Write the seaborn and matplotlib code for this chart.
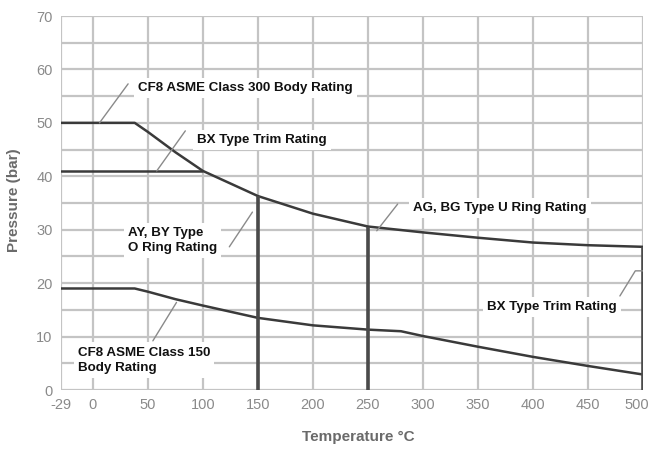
import matplotlib
matplotlib.use("Agg")
import matplotlib.pyplot as plt
import matplotlib.transforms as mtrans
import seaborn as sns
import pandas as pd

# ---- data ----
temps_300 = [-29, 38, 50, 75, 100, 150, 200, 250, 300, 350, 400, 450, 500]
press_300 = [50.0, 50.0, 48.3, 44.5, 41.0, 36.3, 33.0, 30.6, 29.5, 28.5, 27.6, 27.1, 26.8]

temps_150 = [-29, 38, 50, 75, 100, 150, 200, 250, 280, 300, 350, 400, 450, 500]
press_150 = [19.0, 19.0, 18.4, 17.0, 15.8, 13.5, 12.1, 11.3, 11.0, 10.1, 8.1, 6.2, 4.5, 2.9]

temps_bx = [-29, 99]
press_bx = [41.0, 41.0]

vert_temps = [150, 250, 500]
vert_tops = [36.3, 30.6, 26.8]

x_ticks = [-29, 0, 50, 100, 150, 200, 250, 300, 350, 400, 450, 500]
y_ticks = [0, 10, 20, 30, 40, 50, 60, 70]

labels = ["CF8 ASME Class 300 Body Rating", "BX Type Trim Rating",
          "AY, BY Type\nO Ring Rating", "AG, BG Type U Ring Rating",
          "BX Type Trim Rating", "CF8 ASME Class 150\nBody Rating"]

sns.set_theme(style="white")
plt.rcParams['font.family'] = ['Liberation Sans', 'DejaVu Sans']
plt.rcParams['axes.unicode_minus'] = False

fig = plt.figure(figsize=(6.51, 4.5), dpi=100)
ax = fig.add_axes([61/651, 1-390/450, (643-61)/651, (390-16)/450])

# grid
for t in x_ticks:
    ax.axvline(t, color="#c4c4c4", lw=1.6, zorder=0)
for v in range(0, 71, 5):
    ax.axhline(v, color="#c4c4c4", lw=1.6, zorder=0)

line_col = "#3a3a3a"
df300 = pd.DataFrame({"T": temps_300, "P": press_300})
df150 = pd.DataFrame({"T": temps_150, "P": press_150})
dfbx = pd.DataFrame({"T": temps_bx, "P": press_bx})
sns.lineplot(data=df300, x="T", y="P", ax=ax, color=line_col, lw=1.8, zorder=3)
sns.lineplot(data=df150, x="T", y="P", ax=ax, color=line_col, lw=1.8, zorder=3)
sns.lineplot(data=dfbx, x="T", y="P", ax=ax, color=line_col, lw=1.8, zorder=3)
ax.vlines(vert_temps, 0, vert_tops, color="#4a4a4a", lw=2.6, zorder=3)

# annotations
txt_kw = dict(fontsize=9.6, fontweight="bold", color="#111111", va="center", ha="left",
              zorder=5, linespacing=1.35,
              bbox=dict(facecolor="white", edgecolor="none", pad=3))
lead_kw = dict(color="#8a8a8a", lw=1.0, zorder=4)

ax.plot([32, 6], [57.3, 50], **lead_kw)
ax.text(41, 56.5, labels[0], **txt_kw)

ax.plot([84, 58], [48.5, 41], **lead_kw)
ax.text(94.5, 46.8, labels[1], **txt_kw)

ax.plot([145, 124], [33.3, 26.8], **lead_kw)
ax.text(32, 28.0, labels[2], **txt_kw)

ax.plot([277, 258], [34.8, 29.8], **lead_kw)
ax.text(291, 34.0, labels[3], **txt_kw)

ax.plot([479, 493, 500], [17.6, 22.3, 22.3], **lead_kw)
ax.text(358, 15.5, labels[4], **txt_kw)

ax.plot([54.5, 76], [9.2, 16.4], **lead_kw)
ax.text(-13.6, 5.6, labels[5], **txt_kw)

ax.set_xlim(-29, 500)
ax.set_ylim(0, 70)
ax.set_xticks(x_ticks)
ax.set_yticks(y_ticks)
ax.tick_params(axis="both", length=0, labelsize=10.5, labelcolor="#8a8a8a", pad=6)
for s in ax.spines.values():
    s.set_visible(False)
ax.set_xlabel("")
ax.set_ylabel("")

# keep the last tick label inside the canvas
last = ax.get_xticklabels()[-1]
last.set_transform(last.get_transform() + mtrans.ScaledTranslation(-6/100, 0, fig.dpi_scale_trans))

fig.text(358/651, 1-437/450, "Temperature °C", ha="center", va="center",
         fontsize=11, fontweight="bold", color="#6a6a6a")
fig.text(14/651, 1-200/450, "Pressure (bar)", ha="center", va="center",
         rotation=90, fontsize=11, fontweight="bold", color="#6a6a6a")

fig.savefig("out.png", dpi=100)
